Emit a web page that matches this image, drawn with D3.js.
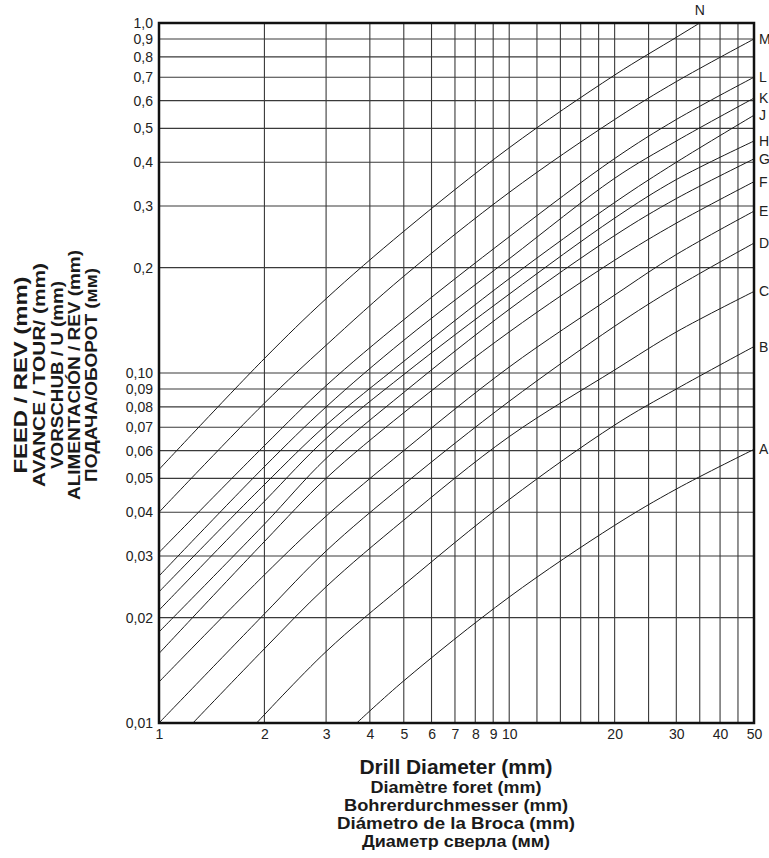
<!DOCTYPE html>
<html>
<head>
<meta charset="utf-8">
<script src="https://cdn.jsdelivr.net/npm/d3@7"></script>
<style>
  body { margin: 0; background: #fff; }
  svg { display: block; font-family: "Liberation Sans", Arial, sans-serif; }
</style>
</head>
<body>
<div class="chart"></div>
<script>

// Datos (diámetro mm, avance mm/rev)
const curveNames = ["A","B","C","D","E","F","G","H","J","K","L","M","N"];

const curveA = [[3.67,0.010],[5,0.0132],[10,0.0229],[20,0.0367],[30,0.0466],[50,0.0605]];
const curveB = [[1.9,0.010],[3,0.016],[5,0.0248],[10,0.0435],[20,0.071],[30,0.090],[50,0.119]];
const curveC = [[1.25,0.010],[2,0.0163],[3,0.0245],[5,0.038],[10,0.0658],[20,0.102],[30,0.131],[50,0.171]];
const curveD = [[1,0.010],[2,0.0205],[3,0.031],[5,0.048],[10,0.083],[20,0.136],[30,0.176],[50,0.235]];
const curveE = [[1,0.0131],[2,0.0265],[3,0.039],[5,0.060],[10,0.104],[20,0.167],[30,0.218],[50,0.290]];
const curveF = [[1,0.0158],[2,0.033],[3,0.050],[5,0.077],[10,0.131],[20,0.210],[30,0.268],[50,0.352]];
const curveG = [[1,0.0182],[2,0.037],[3,0.057],[5,0.088],[10,0.152],[20,0.247],[30,0.315],[50,0.409]];
const curveH = [[1,0.021],[2,0.043],[3,0.065],[5,0.099],[10,0.168],[20,0.277],[30,0.357],[50,0.460]];
const curveJ = [[1,0.0237],[2,0.048],[3,0.071],[5,0.108],[10,0.186],[20,0.307],[30,0.400],[50,0.545]];
const curveK = [[1,0.0263],[2,0.054],[3,0.080],[5,0.124],[10,0.212],[20,0.360],[30,0.460],[50,0.610]];
const curveL = [[1,0.0307],[2,0.062],[3,0.092],[5,0.142],[10,0.245],[20,0.410],[30,0.530],[50,0.700]];
const curveM = [[1,0.040],[2,0.082],[3,0.120],[5,0.189],[10,0.328],[20,0.530],[30,0.680],[50,0.900]];
const curveN = [[1,0.053],[2,0.110],[3,0.163],[5,0.254],[10,0.440],[20,0.710],[30,0.910],[35,1.000]];

const curves = [curveA,curveB,curveC,curveD,curveE,curveF,curveG,curveH,curveJ,curveK,curveL,curveM,curveN];

const xTickValues = [1,2,3,4,5,6,7,8,9,10,20,30,40,50];
const xGridValues = [1,2,3,4,5,6,7,8,9,10,12,14,16,18,20,25,30,35,40,45,50];
const yTickValues = [0.01,0.02,0.03,0.04,0.05,0.06,0.07,0.08,0.09,0.10,0.2,0.3,0.4,0.5,0.6,0.7,0.8,0.9,1.0];
const yTickLabels = ["0,01","0,02","0,03","0,04","0,05","0,06","0,07","0,08","0,09","0,10","0,2","0,3","0,4","0,5","0,6","0,7","0,8","0,9","1,0"];

const xTitles = ["Drill Diameter (mm)","Diamètre foret (mm)","Bohrerdurchmesser (mm)","Diámetro de la Broca (mm)","Диаметр сверла (мм)"];
const xTitleLengths = [193,171,224,238,188];
const yTitles = ["FEED / REV (mm)","AVANCE / TOUR/ (mm)","VORSCHUB / U (mm)","ALIMENTACIÓN / REV (mm)","ПОДАЧА/ОБОРОТ (мм)"];
const yTitleLengths = [197,224,188,250,214];

function drawChart(){

    const width = 769;
    const height = 858;

    const left = 159, right = 754, top = 23, bottom = 723;

    const svg = d3.select(".chart")
        .append("svg")
        .attr("width", width)
        .attr("height", height);

    const x = d3.scaleLog().domain([1,50]).range([left,right]);
    const y = d3.scaleLog().domain([0.01,1]).range([bottom,top]);

    // Rejilla
    svg.append("g")
        .selectAll("line")
        .data(xGridValues)
        .enter()
        .append("line")
        .attr("x1", d => x(d))
        .attr("x2", d => x(d))
        .attr("y1", top)
        .attr("y2", bottom)
        .attr("stroke","#3a3a3a")
        .attr("stroke-width",1.1);

    svg.append("g")
        .selectAll("line")
        .data(yTickValues)
        .enter()
        .append("line")
        .attr("x1", left)
        .attr("x2", right)
        .attr("y1", d => y(d))
        .attr("y2", d => y(d))
        .attr("stroke","#3a3a3a")
        .attr("stroke-width",1.1);

    // Ejes (solo etiquetas)
    const xAxis = d3.axisBottom(x)
        .tickValues(xTickValues)
        .tickFormat(d3.format("d"))
        .tickSize(0)
        .tickPadding(6);

    const gx = svg.append("g")
        .attr("transform", `translate(0,${bottom})`)
        .call(xAxis);

    const yAxis = d3.axisLeft(y)
        .tickValues(yTickValues)
        .tickFormat((d,i) => yTickLabels[i])
        .tickSize(0)
        .tickPadding(6);

    const gy = svg.append("g")
        .attr("transform", `translate(${left},0)`)
        .call(yAxis);

    [gx, gy].forEach(g => {
        g.select(".domain").remove();
        g.selectAll("text")
            .attr("fill","#222")
            .style("font-size","14px")
            .style("font-family","'Liberation Sans', Arial, sans-serif");
    });

    // Curvas
    const line = d3.line()
        .x(d => x(d[0]))
        .y(d => y(d[1]))
        .curve(d3.curveCatmullRom);

    svg.append("g")
        .selectAll("path")
        .data(curves)
        .enter()
        .append("path")
        .attr("d", line)
        .attr("fill","none")
        .attr("stroke","#1a1a1a")
        .attr("stroke-width",1);

    // Marco
    svg.append("rect")
        .attr("x", left)
        .attr("y", top)
        .attr("width", right - left)
        .attr("height", bottom - top)
        .attr("fill","none")
        .attr("stroke","#111")
        .attr("stroke-width",2.5);

    // Letras de las curvas
    svg.append("g")
        .selectAll("text")
        .data(curves)
        .enter()
        .append("text")
        .attr("x", (d,i) => curveNames[i] === "N" ? x(d[d.length-1][0]) : right + 5)
        .attr("y", (d,i) => curveNames[i] === "N" ? top - 8 : y(d[d.length-1][1]) + 5)
        .attr("text-anchor", (d,i) => curveNames[i] === "N" ? "middle" : "start")
        .attr("fill","#222")
        .style("font-size","14px")
        .text((d,i) => curveNames[i]);

    // Títulos eje X
    svg.append("g")
        .selectAll("text")
        .data(xTitles)
        .enter()
        .append("text")
        .attr("x", 456)
        .attr("y", (d,i) => i === 0 ? 774 : 775 + i*18)
        .attr("text-anchor","middle")
        .attr("textLength", (d,i) => xTitleLengths[i])
        .attr("lengthAdjust","spacingAndGlyphs")
        .attr("fill","#1a1a1a")
        .style("font-weight","bold")
        .style("font-size", (d,i) => i === 0 ? "20px" : "16px")
        .text(d => d);

    // Títulos eje Y
    svg.append("g")
        .selectAll("text")
        .data(yTitles)
        .enter()
        .append("text")
        .attr("transform", (d,i) => `translate(${i === 0 ? 27 : 28 + i*17.3},375) rotate(-90)`)
        .attr("text-anchor","middle")
        .attr("textLength", (d,i) => yTitleLengths[i])
        .attr("lengthAdjust","spacingAndGlyphs")
        .attr("fill","#1a1a1a")
        .style("font-weight","bold")
        .style("font-size", (d,i) => i === 0 ? "19px" : "16px")
        .text(d => d);

}

drawChart();

</script>
</body>
</html>
